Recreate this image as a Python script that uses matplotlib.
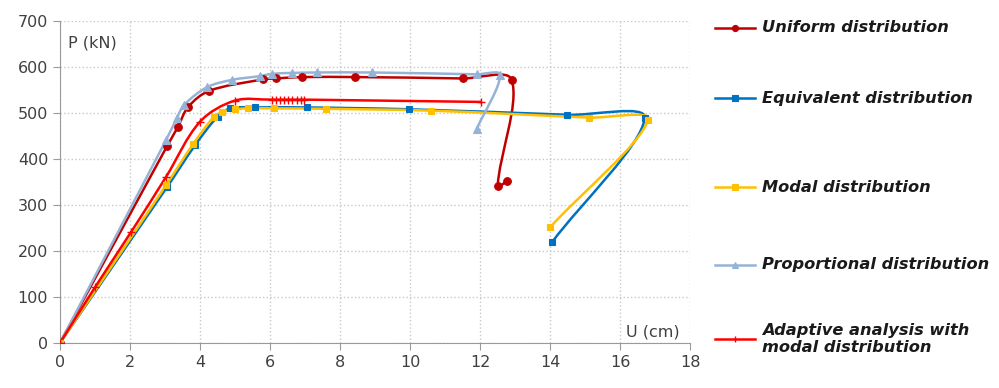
import numpy as np
import matplotlib
matplotlib.use("Agg")
import matplotlib.pyplot as plt
from matplotlib.path import Path
from matplotlib.patches import PathPatch
from matplotlib.lines import Line2D

# Pushover curves: base shear P (kN) against top displacement U (cm)
uniform_u = [0, 3.06, 3.37, 3.66, 4.26, 5.8, 6.17, 6.9, 8.43, 11.5, 12.9, 12.5, 12.77]
uniform_p = [0, 428, 470, 513, 548, 573, 575, 578, 578, 575, 572, 341, 352]

equivalent_u = [0, 3.06, 3.86, 4.5, 4.86, 5.57, 7.05, 9.96, 14.49, 16.7, 14.05]
equivalent_p = [0, 339, 430, 492, 510, 512, 512, 508, 496, 489, 219]

modal_u = [0, 3.03, 3.8, 4.4, 4.63, 5.0, 5.37, 6.11, 7.6, 10.6, 15.1, 16.8, 14.0]
modal_p = [0, 343, 432, 492, 502, 508, 510, 510, 509, 505, 490, 485, 252]

proportional_u = [0, 3.03, 3.34, 3.54, 4.2, 4.92, 5.7, 6.05, 6.63, 7.35, 8.9, 11.9, 12.57, 11.9]
proportional_p = [0, 441, 489, 517, 556, 572, 580, 585, 587, 588, 588, 584, 583, 465]

adaptive_u = [0, 1.0, 2.03, 3.03, 4.0, 5.0, 6.05, 6.17, 6.29, 6.4, 6.51, 6.63, 6.77, 6.89, 6.97, 12.03]
adaptive_p = [0, 121, 241, 361, 481, 527, 529, 529, 529, 529, 529, 529, 529, 529, 529, 524]

series = [
    ("Uniform distribution", uniform_u, uniform_p, "#C00000", "o", 5.5),
    ("Equivalent distribution", equivalent_u, equivalent_p, "#0070C0", "s", 5),
    ("Modal distribution", modal_u, modal_p, "#FFC000", "s", 5),
    ("Proportional distribution", proportional_u, proportional_p, "#95B3D7", "^", 5.5),
    ("Adaptive analysis with\nmodal distribution", adaptive_u, adaptive_p, "#FF0000", "+", 6),
]

# rough pixel-per-unit ratio of the two axes, used to measure chord lengths
XSCALE, YSCALE = 35.0, 0.46


def smooth_path(xs, ys):
    # chord-length weighted Catmull-Rom bezier through every point
    pts = np.column_stack([xs, ys]).astype(float)
    scr = pts * [XSCALE, YSCALE]
    n = len(pts)

    def dist(a, b):
        return np.hypot(*(scr[a] - scr[b]))

    verts = [pts[0]]
    codes = [Path.MOVETO]
    for i in range(n - 1):
        i0 = max(i - 1, 0)
        i3 = min(i + 2, n - 1)
        d01, d12, d23 = dist(i0, i), dist(i, i + 1), dist(i + 1, i3)
        c1 = pts[i] + (pts[i + 1] - pts[i0]) * d12 / (d01 + d12) / 3
        c2 = pts[i + 1] - (pts[i3] - pts[i]) * d12 / (d12 + d23) / 3
        verts += [c1, c2, pts[i + 1]]
        codes += [Path.CURVE4] * 3
    return Path(verts, codes)


fig = plt.figure(figsize=(9.99, 3.88), dpi=100)
ax = fig.add_axes([0.060, 0.116, 0.631, 0.830])

for label, u, p, color, marker, ms in series:
    ax.add_patch(PathPatch(smooth_path(u, p), fill=False, edgecolor=color,
                           lw=1.8, zorder=3))
    ax.plot(u, p, linestyle="none", marker=marker, color=color, ms=ms,
            mew=1.0 if marker == "+" else 0.8, zorder=4)

ax.set_xlim(0, 18)
ax.set_ylim(0, 700)
ax.set_xticks(range(0, 19, 2))
ax.set_yticks(range(0, 701, 100))
ax.grid(True, linestyle=":", color="#C8C8C8", lw=1)
ax.set_axisbelow(True)
for side in ("top", "right"):
    ax.spines[side].set_visible(False)
for side in ("left", "bottom"):
    ax.spines[side].set_color("#9A9A9A")
ax.tick_params(colors="#9A9A9A", labelcolor="#404040", labelsize=11.5,
               length=5, direction="out")

ax.text(0.013, 0.93, "P (kN)", transform=ax.transAxes, fontsize=11.5,
        color="#404040", va="center", ha="left")
ax.text(0.983, 0.035, "U (cm)", transform=ax.transAxes, fontsize=11.5,
        color="#404040", va="center", ha="right")

# hand-placed legend down the right side
W, H = 999, 388
legend_rows = [28, 98, 187, 265, 339]
for (label, u, p, color, marker, ms), y in zip(series, legend_rows):
    yf = 1 - y / H
    fig.add_artist(Line2D([715 / W, 755 / W], [yf, yf], color=color, lw=1.8,
                          transform=fig.transFigure))
    fig.add_artist(Line2D([735 / W], [yf], color=color, lw=0,
                          marker="|" if marker == "+" else marker,
                          ms=ms * 0.8, mew=1.0 if marker == "+" else 0.8,
                          transform=fig.transFigure))
    fig.text(762 / W, yf, label, fontsize=11.7, fontweight="bold",
             fontstyle="italic", color="#1A1A1A", va="center", ha="left",
             linespacing=1.25)

fig.savefig("out.png", dpi=100, facecolor="white")
